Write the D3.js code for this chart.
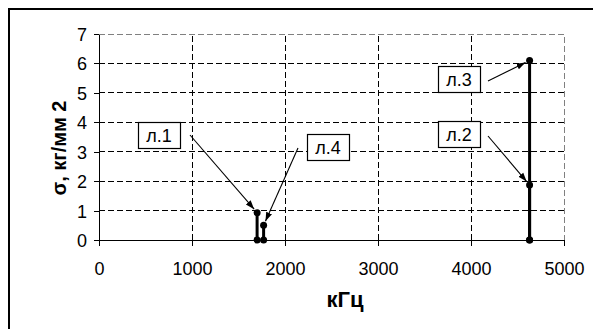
<!DOCTYPE html>
<html><head><meta charset="utf-8">
<script src="https://cdn.jsdelivr.net/npm/d3@7"></script>
<style>
html,body{margin:0;padding:0;background:#fff;}
svg{display:block;font-family:"Liberation Sans",Arial,sans-serif;}
</style></head>
<body>
<svg id="c" width="593" height="329"></svg>
<script>
// ---- data ----
const seriesNames = ["л.1", "л.4", "л.2", "л.3"];
const seriesX = [1700, 1770, 4630, 4630];
const seriesY = [0.93, 0.5, 1.87, 6.1];
const xTicks = [0, 1000, 2000, 3000, 4000, 5000];
const yTicks = [0, 1, 2, 3, 4, 5, 6, 7];
const xTitle = "кГц";
const yTitle = "σ, кг/мм 2";

// ---- layout ----
const svg = d3.select("#c");
const x = d3.scaleLinear().domain([0, 5000]).range([99, 564]);
const y = d3.scaleLinear().domain([0, 7]).range([240, 34]);

// outer frame (top & left visible)
svg.append("path").attr("d", "M9,340V9H600").attr("fill", "none")
  .attr("stroke", "#000").attr("stroke-width", 2);

// gridlines
const g = svg.append("g");
g.selectAll(".hg").data(yTicks.filter(d => d > 0 && d < 7)).join("line")
  .attr("x1", x(0)).attr("x2", x(5000)).attr("y1", d => y(d)).attr("y2", d => y(d))
  .attr("stroke", "#000").attr("stroke-dasharray", "6,3").attr("shape-rendering", "crispEdges");
g.selectAll(".vg").data(xTicks.filter(d => d > 0 && d < 5000)).join("line")
  .attr("y1", y(0)).attr("y2", y(7)).attr("x1", d => x(d)).attr("x2", d => x(d))
  .attr("stroke", "#000").attr("stroke-dasharray", "6,3").attr("shape-rendering", "crispEdges");
// plot area border top & right
g.append("path").attr("d", `M${x(0)},${y(7)}H${x(5000)}V${y(0)}`).attr("fill", "none")
  .attr("stroke", "#808080").attr("stroke-dasharray", "6,3").attr("shape-rendering", "crispEdges");

// axes
const fs = 18;
const xa = svg.append("g").attr("transform", `translate(0,${y(0)})`)
  .call(d3.axisBottom(x).tickValues(xTicks).tickSize(6).tickSizeOuter(0).tickPadding(16).tickFormat(d3.format("d")));
const ya = svg.append("g").attr("transform", `translate(${x(0)},0)`)
  .call(d3.axisLeft(y).tickValues(yTicks).tickSize(5).tickSizeOuter(0).tickPadding(7).tickFormat(d3.format("d")));
[xa, ya].forEach(a => {
  a.select(".domain").attr("stroke", "#000").attr("stroke-width", 1.3).attr("shape-rendering", "crispEdges");
  a.selectAll(".tick line").attr("stroke", "#000").attr("shape-rendering", "crispEdges");
  a.selectAll(".tick text").attr("fill", "#000").attr("font-size", fs)
    .attr("font-family", "Liberation Sans, Arial, sans-serif");
});
ya.selectAll(".tick text").attr("dy", "0.36em");

// axis titles
svg.append("text").attr("x", 345).attr("y", 307).attr("text-anchor", "middle")
  .attr("font-weight", "bold").attr("font-size", 22).text(xTitle);
svg.append("text").attr("transform", "translate(66,148) rotate(-90)").attr("text-anchor", "middle")
  .attr("font-weight", "bold").attr("font-size", 20).text(yTitle);

// series: vertical lines with end markers
const data = seriesNames.map((n, i) => ({ name: n, x: seriesX[i], y: seriesY[i] }));
const s = svg.append("g");
s.selectAll("line.s").data(data).join("line")
  .attr("x1", d => x(d.x)).attr("x2", d => x(d.x)).attr("y1", y(0)).attr("y2", d => y(d.y))
  .attr("stroke", "#000").attr("stroke-width", 3);
s.selectAll("circle.top").data(data).join("circle")
  .attr("cx", d => x(d.x)).attr("cy", d => y(d.y)).attr("r", 3.5).attr("fill", "#000");
s.selectAll("circle.bot").data(data).join("circle")
  .attr("cx", d => x(d.x)).attr("cy", y(0)).attr("r", 3.5).attr("fill", "#000");

// annotation callouts (box position in px, arrow start in px)
const callouts = {
  "л.1": { bx: 138, by: 122, sx: 190, sy: 135 },
  "л.4": { bx: 307, by: 134, sx: 298, sy: 148 },
  "л.3": { bx: 438, by: 66, sx: 488, sy: 81 },
  "л.2": { bx: 438, by: 121, sx: 488, sy: 136 }
};
svg.append("defs").append("marker").attr("id", "ah")
  .attr("viewBox", "0 0 10 10").attr("refX", 10).attr("refY", 5)
  .attr("markerWidth", 9).attr("markerHeight", 9).attr("markerUnits", "userSpaceOnUse")
  .attr("orient", "auto").append("path").attr("d", "M0,1.5L10,5L0,8.5Z").attr("fill", "#000");
const a = svg.append("g");
data.forEach(d => {
  const c = callouts[d.name];
  const px = x(d.x), py = y(d.y);
  const dx = px - c.sx, dy = py - c.sy, L = Math.hypot(dx, dy);
  const ex = px - dx / L * 4.5, ey = py - dy / L * 4.5;
  a.append("line").attr("x1", c.sx).attr("y1", c.sy).attr("x2", ex).attr("y2", ey)
    .attr("stroke", "#000").attr("stroke-width", 1.1).attr("marker-end", "url(#ah)");
  a.append("rect").attr("x", c.bx + 0.5).attr("y", c.by + 0.5).attr("width", 42).attr("height", 26)
    .attr("fill", "#fff").attr("stroke", "#000").attr("stroke-width", 1.2);
  a.append("text").attr("x", c.bx + 21).attr("y", c.by + 19.5).attr("text-anchor", "middle")
    .attr("font-size", 18).text(d.name);
});
</script>
</body></html>
